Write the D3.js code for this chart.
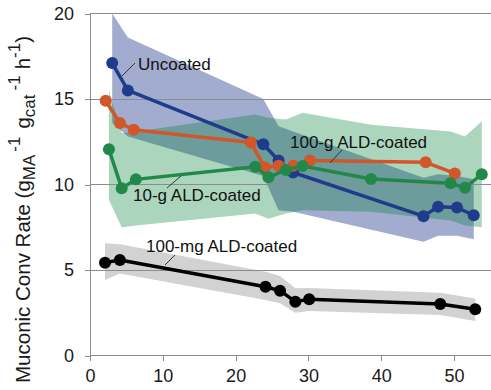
<!DOCTYPE html>
<html><head><meta charset="utf-8">
<script src="https://cdn.jsdelivr.net/npm/d3@7"></script>
<style>html,body{margin:0;padding:0;background:#fff;}svg{display:block;font-family:"Liberation Sans",Arial,sans-serif;}</style>
</head><body>
<svg id="c" width="491" height="390"></svg>
<script>
// ---- data ----
const xTicks = [0, 10, 20, 30, 40, 50];
const yTicks = [0, 5, 10, 15, 20];

const uncoatedX = [3.05, 5.2, 23.8, 25.9, 27.9, 45.8, 47.8, 50.4, 52.7];
const uncoatedY = [17.1, 15.5, 12.35, 11.4, 10.7, 8.15, 8.7, 8.65, 8.2];
const uncoatedHi = [20.0, 18.6, 15.0, 13.4, 13.1, 10.4, 10.6, 10.5, 10.3];
const uncoatedLo = [13.6, 12.8, 10.5, 8.5, 8.4, 6.65, 7.0, 7.0, 6.8];

const g100X = [2.15, 4.1, 6.0, 22.1, 24.0, 25.9, 27.9, 30.2, 46.1, 50.1];
const g100Y = [14.9, 13.6, 13.2, 12.45, 11.0, 11.1, 11.1, 11.4, 11.3, 10.65];

const g10X = [2.6, 4.35, 6.3, 22.7, 24.5, 26.9, 29.2, 38.6, 49.5, 51.5, 53.8];
const g10Y = [12.06, 9.78, 10.3, 11.04, 10.42, 10.85, 11.08, 10.32, 10.07, 9.81, 10.6];
const g10Hi = [15.5, 13.0, 13.1, 14.1, 13.9, 13.8, 14.2, 13.5, 13.1, 12.8, 13.7];
const g10Lo = [9.1, 7.5, 7.6, 8.3, 8.0, 8.3, 8.5, 8.4, 7.9, 7.6, 7.5];

const mg100X = [2.06, 4.1, 24.1, 26.1, 28.2, 30.1, 48.1, 52.9];
const mg100Y = [5.43, 5.58, 4.02, 3.79, 3.15, 3.29, 3.01, 2.70];
const mg100Hi = [6.56, 6.5, 4.9, 4.65, 3.93, 3.95, 3.67, 3.34];
const mg100Lo = [4.41, 4.8, 3.25, 3.05, 2.5, 2.6, 2.37, 2.02];

// ---- drawing ----
const svg = d3.select("#c");
const x = d3.scaleLinear().domain([0, 55]).range([90, 490.5]);
const y = d3.scaleLinear().domain([0, 20]).range([355.5, 13.5]);

function pts(xs, ys) { return xs.map((v, i) => [v, ys[i]]); }
function band(xs, lo, hi) { return xs.map((v, i) => ({x: v, lo: lo[i], hi: hi[i]})); }

const area = d3.area().x(d => x(d.x)).y0(d => y(d.lo)).y1(d => y(d.hi));
const line = d3.line().x(d => x(d[0])).y(d => y(d[1]));

// bands
svg.append("path").attr("d", area(band(uncoatedX, uncoatedLo, uncoatedHi)))
  .attr("fill", "rgb(161,172,207)");
svg.append("path").attr("d", area(band(g10X, g10Lo, g10Hi)))
  .attr("fill", "rgb(0,128,52)").attr("fill-opacity", 0.33);
svg.append("path").attr("d", area(band(mg100X, mg100Lo, mg100Hi)))
  .attr("fill", "#d2d2d2");

// gridlines
svg.append("g").selectAll("line").data(yTicks.filter(t => t > 0)).join("line")
  .attr("x1", x(0)).attr("x2", 491).attr("y1", d => y(d)).attr("y2", d => y(d))
  .attr("stroke", "#8c8c8c").attr("stroke-width", 1).attr("shape-rendering", "crispEdges");

// axes
const yAxis = d3.axisLeft(y).tickValues(yTicks).tickSize(5).tickPadding(11).tickFormat(d3.format("d"));
const gy = svg.append("g").attr("transform", `translate(${x(0)},0)`).call(yAxis);
const xAxis = d3.axisBottom(x).tickValues(xTicks).tickSize(5).tickPadding(9).tickFormat(d3.format("d"));
const gx = svg.append("g").attr("transform", `translate(0,${y(0)})`).call(xAxis);
[gx, gy].forEach(g => {
  g.select(".domain").attr("stroke", "#8c8c8c").attr("shape-rendering", "crispEdges");
  g.selectAll(".tick line").attr("stroke", "#8c8c8c").attr("shape-rendering", "crispEdges");
  g.selectAll("text").attr("font-size", 18).attr("fill", "#1a1a1a")
    .attr("font-family", "'Liberation Sans', Arial, sans-serif");
});
gx.select(".domain").attr("d", `M${x(0)},0H491`);
gy.select(".domain").attr("d", `M0,${y(20)}V${y(0)}`);

// series
const series = [
  {xs: mg100X, ys: mg100Y, c: "#000000"},
  {xs: uncoatedX, ys: uncoatedY, c: "#1f3c8c"},
  {xs: g100X, ys: g100Y, c: "#d2562a"},
  {xs: g10X, ys: g10Y, c: "#22884a"}
];
series.forEach(s => {
  const p = pts(s.xs, s.ys);
  const g = svg.append("g");
  g.append("path").attr("d", line(p)).attr("fill", "none").attr("stroke", s.c)
    .attr("stroke-width", 3.5).attr("stroke-linejoin", "round");
  g.selectAll("circle").data(p).join("circle")
    .attr("cx", d => x(d[0])).attr("cy", d => y(d[1])).attr("r", 6).attr("fill", s.c);
});

// annotations
const notes = [
  {t: "Uncoated", tx: 138, ty: 70, l: [135, 63, 122, 76]},
  {t: "100-g ALD-coated", tx: 290, ty: 148, l: [342, 150, 330, 163]},
  {t: "10-g ALD-coated", tx: 133, ty: 201, l: [181, 176, 167, 188]},
  {t: "100-mg ALD-coated", tx: 146, ty: 252, l: [175, 255, 165, 265]}
];
notes.forEach(n => {
  svg.append("line").attr("x1", n.l[0]).attr("y1", n.l[1]).attr("x2", n.l[2]).attr("y2", n.l[3])
    .attr("stroke", "#333").attr("stroke-width", 1);
  svg.append("text").attr("x", n.tx).attr("y", n.ty).attr("font-size", 17).attr("fill", "#111")
    .text(n.t);
});

// y-axis title
const title = svg.append("text").attr("transform", "translate(30,383) rotate(-90)")
  .attr("text-anchor", "start").attr("font-size", 20.5).attr("fill", "#1a1a1a");
title.append("tspan").text("Muconic Conv Rate (g");
title.append("tspan").attr("font-size", 17).attr("dy", 5).text("MA");
title.append("tspan").attr("font-size", 17).attr("dx", 3).attr("dy", -15).text("-1");
title.append("tspan").attr("dx", 8).attr("dy", 10).text("g");
title.append("tspan").attr("font-size", 17).attr("dy", 5).text("cat");
title.append("tspan").attr("font-size", 17).attr("dx", 4).attr("dy", -15).text("-1");
title.append("tspan").attr("dx", 6).attr("dy", 10).text("h");
title.append("tspan").attr("font-size", 17).attr("dy", -10).text("-1");
title.append("tspan").attr("dy", 10).text(")");
</script>
</body></html>
